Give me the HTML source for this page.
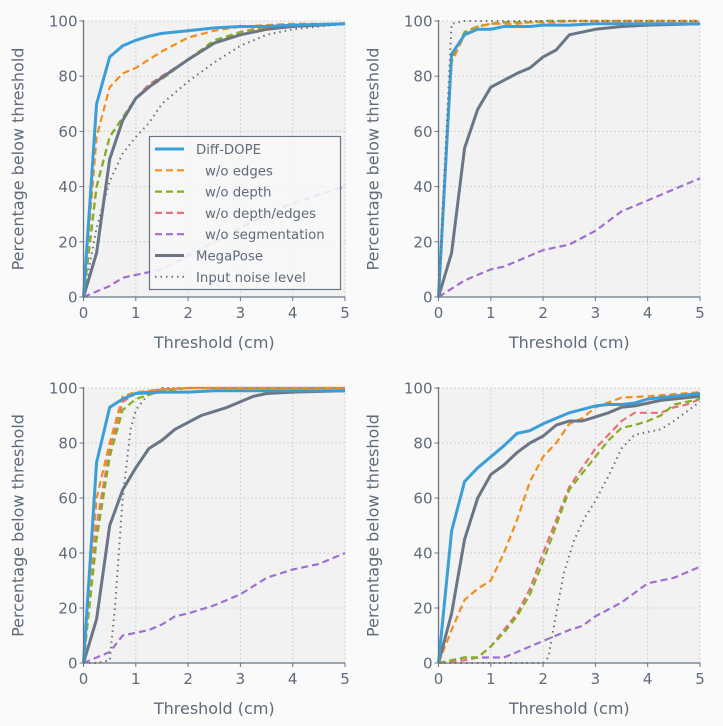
<!DOCTYPE html>
<html><head><meta charset="utf-8">
<style>
body{margin:0;background:#fafafa;}
svg{display:block;font-family:"DejaVu Sans","Liberation Sans",sans-serif;}
</style></head>
<body>
<svg id="fig" width="723" height="726" viewBox="0 0 723 726" xmlns="http://www.w3.org/2000/svg"></svg>
<script>
const seriesNames=["Diff-DOPE","w/o edges","w/o depth","w/o depth/edges","w/o segmentation","MegaPose","Input noise level"];
const xTicks=[0,1,2,3,4,5];
const yTicks=[0,20,40,60,80,100];
// Panel 1 (top-left)
const p1x=[0,0.25,0.5,0.75,1,1.25,1.5,2,2.5,3,3.5,4,5];
const p1DiffDope=[0,70,87,91,93,94.5,95.5,96.5,97.5,98,98,98.5,99];
const p1Edges=[0,58,76,81,83,86,89,94,96.5,98,98.5,99,99];
const p1Depth=[0,40,58,65,72,76,79,86,93,96,98,98.5,99];
const p1DepthEdges=[0,40,58,65,72,77,80,86,92,96,98,98.5,99];
const p1Seg=[0,2,4,7,8,9,10,15,20,25,30,34,40];
const p1Mega=[0,16,50,64,72,76,79.5,86,92,95,97,98,99];
const p1Noise=[0,25,42,52,58,63,70,78,85,91,95,97,99];
// Panel 2 (top-right)
const p2x=[0,0.25,0.5,0.75,1,1.25,1.5,1.75,2,2.25,2.5,3,3.5,4,5];
const p2DiffDope=[0,88,95,97,97,98,98,98,98.5,98.5,98.5,99,99,99,99];
const p2Edges=[0,85,95,98,99,99,99,99.5,99.5,99.5,100,100,100,100,100];
const p2Depth=[0,87,96,98,99,99.5,99.5,99.5,100,100,100,100,100,100,100];
const p2DepthEdges=[0,86,96,98,99,99.5,99.5,99.5,100,100,100,100,100,100,100];
const p2Seg=[0,3,6,8,10,11,13,15,17,18,19,24,31,35,43];
const p2Mega=[0,16,54,68,76,78.5,81,83,87,89.5,95,97,98,98.5,99];
const p2Noise=[0,99,100,100,100,100,100,100,100,100,100,100,100,100,100];
// Panel 3 (bottom-left)
const p3x=[0,0.25,0.5,0.75,1,1.5,2,2.5,3,5];
const p3DiffDope=[0,73,93,96,98,98.5,98.5,99,99,99];
const p3Edges=[0,60,80,97,98.5,99.5,100,100,100,100];
const p3Depth=[0,45,75,92,96,99,100,100,100,100];
const p3DepthEdges=[0,50,78,95,98,99.5,100,100,100,100];
const p3MegaX=[0,0.25,0.5,0.75,1,1.25,1.5,1.75,2,2.25,2.5,2.75,3,3.25,3.5,4,5];
const p3Mega=[0,16,50,63,71,78,81,85,87.5,90,91.5,93,95,97,98,98.5,99];
const p3SegX=[0,0.5,0.75,1,1.25,1.5,1.75,2,2.5,3,3.5,4,4.5,5];
const p3Seg=[0,4,10,11,12,14,17,18,21,25,31,34,36,40];
const p3NoiseX=[0,0.25,0.5,0.6,0.75,0.9,1,1.25,1.5,5];
const p3Noise=[0,0,1,20,60,85,92,98,100,100];
// Panel 4 (bottom-right)
const p4DiffX=[0,0.25,0.5,0.75,1,1.25,1.5,1.75,2,2.25,2.5,3,3.25,3.5,3.75,4,5];
const p4DiffDope=[0,48,66,71,75,79,83.5,84.5,87,89,91,93.5,94,94,94.5,96,98];
const p4MegaX=[0,0.25,0.5,0.75,1,1.25,1.5,1.75,2,2.25,2.5,2.75,3,3.25,3.5,3.75,4,4.25,5];
const p4Mega=[0,18,45,60,68.5,72,76.5,80,82.5,86.5,88,88,89.5,91,93,93.5,94.5,95.5,97];
const p4EdgesX=[0,0.25,0.5,0.75,1,1.25,1.5,1.75,2,2.25,2.5,2.75,3,3.5,4,5];
const p4Edges=[0,12,23,27,30,40,52,66,75,80,87,89,93,96.5,97,98.5];
const p4DX=[0,0.5,0.75,1,1.25,1.5,1.75,2,2.25,2.5,2.75,3,3.25,3.5,3.75,4,4.25,4.5,4.75,5];
const p4DepthEdges=[0,1,2,6,12,18,27,40,52,64,71,78,83,88,91,91,91,93,94,96];
const p4Depth=[0,2,2,6,11,17,25,37,50,63,69,75,81,85.5,86.5,88,90,94,95,96];
const p4SegX=[0,0.5,1,1.25,1.5,1.75,2,2.25,2.5,2.75,3,3.5,4,4.5,5];
const p4Seg=[0,2,2,2,4,6,8,10,12,13.5,17,22,29,31,35];
const p4NoiseX=[0,2,2.1,2.25,2.4,2.6,2.8,3,3.25,3.5,3.75,4,4.25,4.5,5];
const p4Noise=[0,0,2,18,33,45,53,59,68,78,83,84,85,88,95];

const styles={
 diff:{c:"#3a9fd8",w:3,d:null},
 edges:{c:"#f28e1c",w:2.2,d:"7,4"},
 depth:{c:"#7fb31a",w:2.2,d:"7,4"},
 de:{c:"#e8707a",w:2.2,d:"7,4"},
 seg:{c:"#a070d0",w:2.2,d:"7,4"},
 mega:{c:"#6a7585",w:3,d:null},
 noise:{c:"#707070",w:2,d:"1.5,4"}
};
const svg=document.getElementById('fig');
const NS="http://www.w3.org/2000/svg";
function mk(tag,attrs,parent){const e=document.createElementNS(NS,tag);for(const k in attrs)e.setAttribute(k,attrs[k]);(parent||svg).appendChild(e);return e;}

const panels=[
 {id:"top-left",x0:83.5,x1:345,y0:297,y1:21,series:[
  ["noise",p1x,p1Noise],["seg",p1x,p1Seg],["de",p1x,p1DepthEdges],["depth",p1x,p1Depth],["edges",p1x,p1Edges],["mega",p1x,p1Mega],["diff",p1x,p1DiffDope]],legend:true},
 {id:"top-right",x0:438.5,x1:700,y0:297,y1:21,series:[
  ["seg",p2x,p2Seg],["mega",p2x,p2Mega],["de",p2x,p2DepthEdges],["depth",p2x,p2Depth],["edges",p2x,p2Edges],["diff",p2x,p2DiffDope],["noise",p2x,p2Noise]]},
 {id:"bottom-left",x0:83.5,x1:345,y0:663,y1:388,series:[
  ["seg",p3SegX,p3Seg],["mega",p3MegaX,p3Mega],["noise",p3NoiseX,p3Noise],["de",p3x,p3DepthEdges],["depth",p3x,p3Depth],["edges",p3x,p3Edges],["diff",p3x,p3DiffDope]]},
 {id:"bottom-right",x0:438.5,x1:700,y0:663,y1:388,series:[
  ["noise",p4NoiseX,p4Noise],["seg",p4SegX,p4Seg],["de",p4DX,p4DepthEdges],["depth",p4DX,p4Depth],["edges",p4EdgesX,p4Edges],["mega",p4MegaX,p4Mega],["diff",p4DiffX,p4DiffDope]]}
];
const keyNames={diff:"diff-dope",edges:"wo-edges",depth:"wo-depth",de:"wo-depth-edges",seg:"wo-segmentation",mega:"megapose",noise:"input-noise"};

panels.forEach(p=>{
 const g=mk('g',{});
 
 
 const sx=v=>p.x0+(p.x1-p.x0)*v/5;
 const sy=v=>p.y0+(p.y1-p.y0)*v/100;
 mk('rect',{x:p.x0,y:p.y1,width:p.x1-p.x0,height:p.y0-p.y1,fill:"#f2f2f2"},g);
 xTicks.forEach(t=>{
  if(t>0)mk('line',{x1:sx(t),x2:sx(t),y1:p.y0,y2:p.y1,stroke:"#c8c8c8","stroke-width":1,"stroke-dasharray":"1.5,2.5"},g);
  mk('line',{x1:sx(t),x2:sx(t),y1:p.y0,y2:p.y0+4,stroke:"#6a7585"},g);
  const tx=mk('text',{x:sx(t),y:p.y0+21,"text-anchor":"middle","font-size":15,fill:"#5f6b7a"},g);tx.textContent=t;
  
 });
 yTicks.forEach(t=>{
  if(t>0)mk('line',{x1:p.x0,x2:p.x1,y1:sy(t),y2:sy(t),stroke:"#c8c8c8","stroke-width":1,"stroke-dasharray":"1.5,2.5"},g);
  mk('line',{x1:p.x0-4,x2:p.x0,y1:sy(t),y2:sy(t),stroke:"#6a7585"},g);
  const tx=mk('text',{x:p.x0-6,y:sy(t)+5.5,"text-anchor":"end","font-size":15,fill:"#5f6b7a"},g);tx.textContent=t;
  
 });
 const cg=mk('g',{},g);
 p.series.forEach(([k,xs,ys])=>{
  const s=styles[k];
  const pts=xs.map((x,i)=>sx(x).toFixed(1)+","+sy(ys[i]).toFixed(1)).join(" ");
  const a={points:pts,fill:"none",stroke:s.c,"stroke-width":s.w,"stroke-linejoin":"round"};
  if(s.d)a["stroke-dasharray"]=s.d;
  const pl=mk('polyline',a,cg);
  
  
 });
 mk('line',{x1:p.x0,x2:p.x0,y1:p.y0,y2:p.y1-1,stroke:"#6a7585","stroke-width":1.3},g);
 mk('line',{x1:p.x0,x2:p.x1,y1:p.y0,y2:p.y0,stroke:"#6a7585","stroke-width":1.3},g);
 const xl=mk('text',{x:(p.x0+p.x1)/2,y:p.y0+51,"text-anchor":"middle","font-size":16,fill:"#5f6b7a"},g);
 xl.textContent="Threshold (cm)";
 
 const cy=(p.y0+p.y1)/2;
 const yl=mk('text',{x:p.x0-60,y:cy,"text-anchor":"middle","font-size":16,fill:"#5f6b7a",transform:`rotate(-90 ${p.x0-60} ${cy})`},g);
 yl.textContent="Percentage below threshold";
 
 if(p.legend){
  const lg=mk('g',{},g);
  
  mk('rect',{x:149.5,y:136.5,width:191,height:153,fill:"#f7f7f7","fill-opacity":0.88,stroke:"#6a7585","stroke-width":1.2},lg);
  const keys=["diff","edges","depth","de","seg","mega","noise"];
  keys.forEach((k,i)=>{
   const y=149+i*21.3;const s=styles[k];
   const a={x1:155,x2:184,y1:y,y2:y,stroke:s.c,"stroke-width":s.w};
   if(s.d)a["stroke-dasharray"]=s.d;
   mk('line',a,lg);
   const t=mk('text',{x:(k==="diff"||k==="mega"||k==="noise")?196:205,y:y+5,"font-size":13.3,fill:"#5f6b7a"},lg);
   t.textContent=seriesNames[i];
   
  });
 }
});
</script>
</body></html>
